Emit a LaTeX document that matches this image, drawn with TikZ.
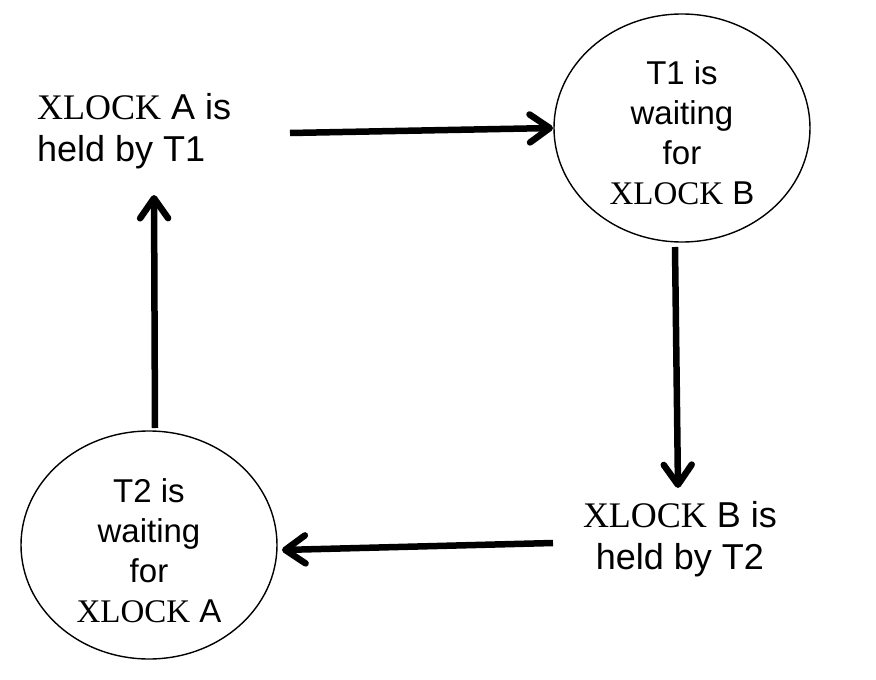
\documentclass[tikz,border=0pt]{standalone}
\usepackage{fontspec}
\setmainfont{Liberation Sans}
\newfontfamily\tmsfont{Liberation Serif}
\newcommand\XL{{\tmsfont XLOCK}}
\usetikzlibrary{shapes.geometric,arrows.meta}
\begin{document}
\begin{tikzpicture}[x=1pt,y=-1pt,
  txt/.style={inner sep=0pt,align=center,font=\fontsize{36}{42}\selectfont},
  elltxt/.style={inner sep=0pt,align=center,font=\fontsize{33}{40}\selectfont},
  waitell/.style={draw,ellipse,line width=1.4pt,minimum width=256pt,minimum height=228pt,inner sep=0pt},
  cyc/.style={line width=6.5pt,-{Straight Barb[length=20pt,width=28pt,round]}}]
\useasboundingbox (0,0) rectangle (876,680);
% nodes
\node[txt,align=left,anchor=west] (tl) at (37,131) {\XL{} A is\\held by T1};
\node[txt] (br) at (680,539) {\XL{} B is\\held by T2};
\node[waitell] (tr) at (682,128) {};
\node[elltxt] (trt) at ([yshift=-5pt]tr.center) {T1 is\\waiting\\for\\\XL{} B};
\node[waitell] (bl) at (149,545) {};
\node[elltxt] (blt) at ([yshift=-6pt]bl.center) {T2 is\\waiting\\for\\\XL{} A};
% connector end points
\coordinate (s1) at (290,133);
\coordinate (e1) at (553,128);
\coordinate (s2) at (675,247);
\coordinate (e2) at (678,488);
\coordinate (s3) at (553,543);
\coordinate (e3) at (282,550);
\coordinate (s4) at (155,428);
\coordinate (e4) at (154,195);
% connectors
\draw[cyc] (s1) -- (e1);
\draw[cyc] (s2) -- (e2);
\draw[cyc] (s3) -- (e3);
\draw[cyc] (s4) -- (e4);
\end{tikzpicture}
\end{document}
